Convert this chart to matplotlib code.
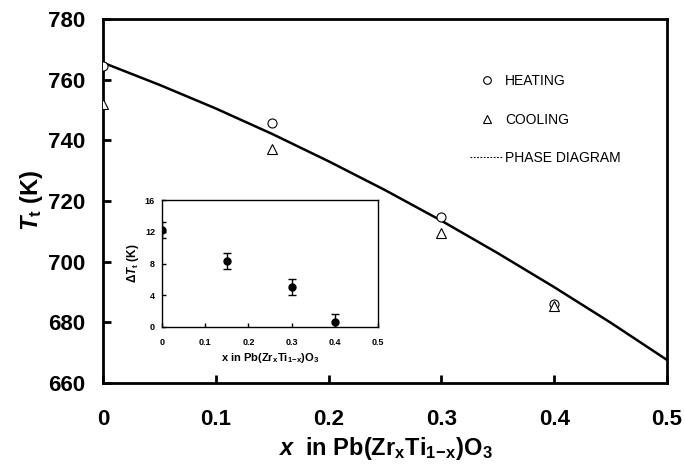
import matplotlib
matplotlib.use("Agg")
import matplotlib.pyplot as plt
from matplotlib.lines import Line2D

FAM = "Liberation Sans"
plt.rcParams['font.family'] = [FAM, 'DejaVu Sans']
plt.rcParams['mathtext.fontset'] = 'custom'
plt.rcParams['mathtext.rm'] = FAM + ':bold'
plt.rcParams['mathtext.bf'] = FAM + ':bold'
plt.rcParams['mathtext.it'] = FAM + ':italic:bold'

# ---- data ----
x_heat = [0.0, 0.15, 0.30, 0.40]
t_heat = [764.5, 745.6, 714.6, 686.0]
x_cool = [0.0, 0.15, 0.30, 0.40]
t_cool = [752.0, 737.0, 709.5, 685.5]
x_phase = [0.0, 0.05, 0.10, 0.15, 0.20, 0.25, 0.30, 0.35, 0.40, 0.45, 0.50]
t_phase = [765.6, 758.3, 750.5, 742.1, 733.1, 723.6, 713.5, 702.8, 691.6, 679.9, 667.6]

x_dt = [0.0, 0.15, 0.30, 0.40]
dt = [12.2, 8.3, 5.0, 0.6]
dt_err = [1.0, 1.0, 1.0, 1.0]

xticks_main = [0, 0.1, 0.2, 0.3, 0.4, 0.5]
xticklabels_main = ['0', '0.1', '0.2', '0.3', '0.4', '0.5']
yticks_main = [660, 680, 700, 720, 740, 760, 780]
yticks_inset = [0, 4, 8, 12, 16]

W, H = 685, 466
fig = plt.figure(figsize=(6.85, 4.66), dpi=100)

def frac(l, t, r, b):
    return [l / W, (H - b) / H, (r - l) / W, (b - t) / H]

ax = fig.add_axes(frac(103, 19, 667, 383))
ax.plot(x_phase, t_phase, color='black', lw=1.8, zorder=2)
ax.plot(x_heat, t_heat, linestyle='none', marker='o', ms=6.5, mfc='white',
        mec='black', mew=0.8, zorder=3)
ax.plot(x_cool, t_cool, linestyle='none', marker='^', ms=6.5, mfc='white',
        mec='black', mew=0.8, zorder=3)
ax.set_xlim(0, 0.5)
ax.set_ylim(660, 780)
ax.set_xticks(xticks_main)
ax.set_xticklabels(xticklabels_main)
ax.set_yticks(yticks_main)
for s in ax.spines.values():
    s.set_linewidth(2.0)
ax.tick_params(direction='in', length=6, width=2, labelsize=16, top=False, right=False)
ax.tick_params(axis='x', pad=19)
ax.tick_params(axis='y', pad=13)
for lab in ax.get_xticklabels() + ax.get_yticklabels():
    lab.set_fontweight('bold')
ax.set_xlabel(r'$\mathit{x}$  in Pb(Zr$_{\mathrm{x}}$Ti$_{\mathrm{1\!-\!x}}$)O$_{\mathrm{3}}$',
              fontsize=17, fontweight='bold', labelpad=3)
ax.set_ylabel(r'$\mathit{T}_{\mathrm{t}}$ (K)', fontsize=17, fontweight='bold', labelpad=2)

handles = [
    Line2D([], [], linestyle='none', marker='o', ms=5.5, mfc='white', mec='black', mew=0.8),
    Line2D([], [], linestyle='none', marker='^', ms=5.5, mfc='white', mec='black', mew=0.8),
    Line2D([], [], color='black', lw=0.8, linestyle=(0, (1.5, 1.5))),
]
labels = ['HEATING', 'COOLING', 'PHASE DIAGRAM']
leg = ax.legend(handles, labels, loc='upper left', bbox_to_anchor=(0.651, 0.848),
                frameon=False, handlelength=2.4, handletextpad=0.1,
                labelspacing=1.75, borderpad=0, borderaxespad=0,
                prop={'family': 'Liberation Sans', 'size': 10})

# ---- inset ----
ins = fig.add_axes(frac(162, 200, 378, 327))
ins.errorbar(x_dt, dt, yerr=dt_err, fmt='o', color='black', ms=5, capsize=3,
             elinewidth=1.0, capthick=1.0)
ins.set_xlim(0, 0.5)
ins.set_ylim(0, 16)
ins.set_xticks(xticks_main)
ins.set_xticklabels(xticklabels_main)
ins.set_yticks(yticks_inset)
for s in ins.spines.values():
    s.set_linewidth(1.0)
ins.tick_params(direction='in', length=3, width=1, labelsize=6.5, top=False, right=False)
ins.tick_params(axis='x', pad=8)
ins.tick_params(axis='y', pad=5)
for lab in ins.get_xticklabels() + ins.get_yticklabels():
    lab.set_fontweight('bold')
ins.set_xlabel(r'x in Pb(Zr$_{\mathrm{x}}$Ti$_{\mathrm{1\!-\!x}}$)O$_{\mathrm{3}}$',
               fontsize=8, fontweight='bold', labelpad=3)
ins.set_ylabel(r'$\Delta\mathit{T}_{\mathrm{t}}$ (K)', fontsize=8.5, fontweight='bold', labelpad=3)

fig.savefig('out.png', dpi=100)
